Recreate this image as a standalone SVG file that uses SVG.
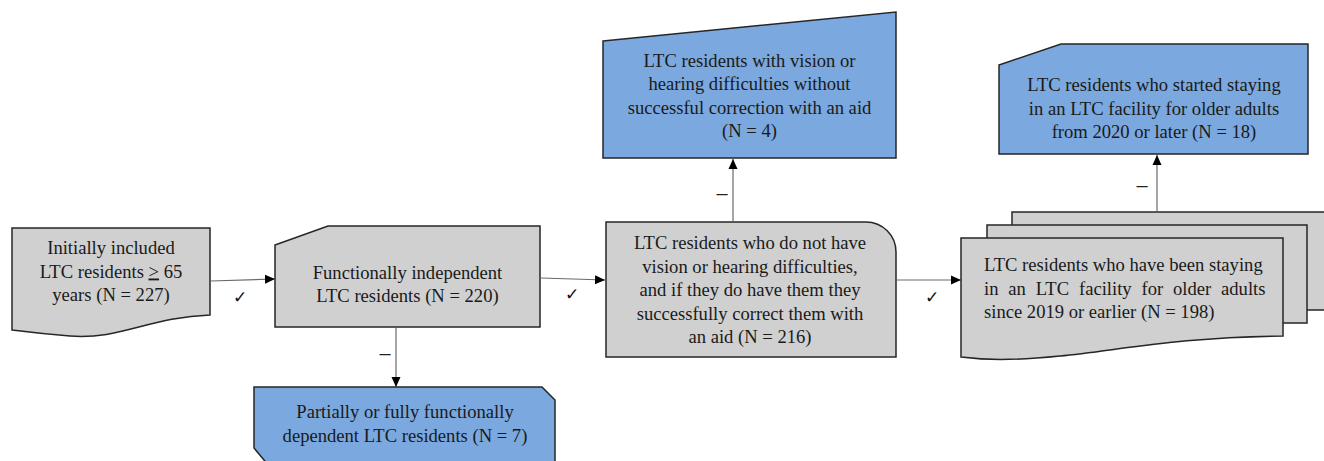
<svg xmlns="http://www.w3.org/2000/svg" width="1324" height="461" viewBox="0 0 1324 461">
<style>
.g{fill:#d0d0d0;stroke:#262626;stroke-width:1.5}
.b{fill:#7ba8de;stroke:#262626;stroke-width:1.5}
.t{font-family:"Liberation Serif","Times New Roman",serif;font-size:18.6px;fill:#1a1a1a;text-anchor:middle}
.tl{font-family:"Liberation Serif","Times New Roman",serif;font-size:18.6px;fill:#1a1a1a}
.c{fill:none;stroke:#6a6a6a;stroke-width:1.2}
.m{font-family:"DejaVu Sans",sans-serif;font-size:17px;fill:#111;text-anchor:middle}
.d{font-family:"Liberation Sans",sans-serif;font-size:20px;fill:#222;text-anchor:middle}
</style>
<defs>
<marker id="ar" viewBox="0 0 10 10" refX="10" refY="5" markerWidth="10" markerHeight="10" markerUnits="userSpaceOnUse" orient="auto">
<path d="M0,0.5 L10,5 L0,9.5 Z" fill="#000"/>
</marker>
</defs>
<g id="connectors">
<line class="c" x1="211" y1="281" x2="275" y2="279" marker-end="url(#ar)"/>
<line class="c" x1="541" y1="278" x2="605" y2="280" marker-end="url(#ar)"/>
<line class="c" x1="897" y1="280" x2="961" y2="280" marker-end="url(#ar)"/>
<line class="c" x1="396" y1="328" x2="396" y2="387" marker-end="url(#ar)"/>
<line class="c" x1="733" y1="221" x2="733" y2="159" marker-end="url(#ar)"/>
<line class="c" x1="1157" y1="211" x2="1157" y2="155" marker-end="url(#ar)"/>
<text class="m" x="240" y="303">✓</text>
<text class="m" x="572" y="300">✓</text>
<text class="m" x="932" y="303">✓</text>
<text class="d" x="385" y="360">–</text>
<text class="d" x="722" y="200">–</text>
<text class="d" x="1142" y="192">–</text>
</g>
<g id="n1">
<path class="g" d="M12,228 H210 V315 C150,317 120,340 70,336 C45,334 28,332 12,330 Z"/>
<text class="t"><tspan x="111" y="254">Initially included</tspan><tspan x="111" y="277.5">LTC residents <tspan text-decoration="underline">&gt;</tspan> 65</tspan><tspan x="111" y="301">years (N = 227)</tspan></text>
</g>
<g id="n2">
<path class="g" d="M275,245 L328,226 H540 V327 H275 Z"/>
<text class="t"><tspan x="407.5" y="279">Functionally independent</tspan><tspan x="407.5" y="302">LTC residents (N = 220)</tspan></text>
</g>
<g id="n3">
<path class="g" d="M606,222 H866 A30,30 0 0 1 896,252 V357 H606 Z"/>
<text class="t"><tspan x="750" y="249">LTC residents who do not have</tspan><tspan x="750" y="272.5">vision or hearing difficulties,</tspan><tspan x="750" y="296">and if they do have them they</tspan><tspan x="750" y="319.5">successfully correct them with</tspan><tspan x="750" y="343">an aid (N = 216)</tspan></text>
</g>
<g id="n4">
<path class="b" d="M603,41 L896,12 V158 H603 Z"/>
<text class="t"><tspan x="749.5" y="67">LTC residents with vision or</tspan><tspan x="749.5" y="90">hearing difficulties without</tspan><tspan x="749.5" y="113.5">successful correction with an aid</tspan><tspan x="749.5" y="137">(N = 4)</tspan></text>
</g>
<g id="n5">
<path class="g" d="M1012,212 H1330 V310 H1012 Z"/>
<path class="g" d="M987,225 H1307 V323 H987 Z"/>
<path class="g" d="M961,238 H1283 V336 C1180,337 1120,350 1060,356 C1010,361 985,360 961,357 Z"/>
<text class="tl"><tspan x="984" y="271">LTC residents who have been staying</tspan><tspan x="984" y="294.5" word-spacing="5.2">in an LTC facility for older adults</tspan><tspan x="984" y="318">since 2019 or earlier (N = 198)</tspan></text>
</g>
<g id="n6">
<path class="b" d="M999,65 L1061,44 H1308 V154 H999 Z"/>
<text class="t"><tspan x="1154" y="91">LTC residents who started staying</tspan><tspan x="1154" y="114.5">in an LTC facility for older adults</tspan><tspan x="1154" y="138">from 2020 or later (N = 18)</tspan></text>
</g>
<g id="n7">
<path class="b" d="M254,387 H542 L555,400 V472 H274 L254,448 Z"/>
<text class="t"><tspan x="405" y="418">Partially or fully functionally</tspan><tspan x="405" y="441.5">dependent LTC residents (N = 7)</tspan></text>
</g>
</svg>
